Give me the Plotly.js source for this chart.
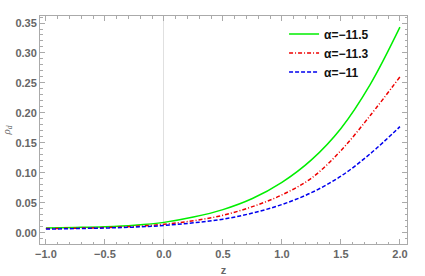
<!DOCTYPE html>
<html>
<head>
<meta charset="utf-8">
<script src="https://cdn.plot.ly/plotly-3.0.1.min.js"></script>
<style>html,body{margin:0;padding:0;background:#fff;}#chart{width:425px;height:276px;}</style>
</head>
<body>
<div id="chart"></div>
<script>
var zValues = [-1.0, -0.75, -0.5, -0.25, 0.0, 0.25, 0.5, 0.75, 1.0, 1.25, 1.5, 1.75, 2.0];
var rhoA115 = [0.0080, 0.0088, 0.0100, 0.0125, 0.0172, 0.0260, 0.0385, 0.0570, 0.0840, 0.1215, 0.1740, 0.2480, 0.3430];
var rhoA113 = [0.0068, 0.0075, 0.0085, 0.0105, 0.0140, 0.0200, 0.0290, 0.0435, 0.0630, 0.0910, 0.1370, 0.1960, 0.2600];
var rhoA11  = [0.0060, 0.0068, 0.0078, 0.0093, 0.0120, 0.0165, 0.0225, 0.0327, 0.0470, 0.0668, 0.0944, 0.1320, 0.1770];
var seriesNames = ["α=−11.5", "α=−11.3", "α=−11"];
var yTickVals = [0.00, 0.05, 0.10, 0.15, 0.20, 0.25, 0.30, 0.35];
var xTickVals = [-1.0, -0.5, 0.0, 0.5, 1.0, 1.5, 2.0];

var traces = [
  {x: zValues, y: rhoA115, name: seriesNames[0], mode: 'lines', line: {color: '#00ee00', width: 1.5, shape: 'spline'}},
  {x: zValues, y: rhoA113, name: seriesNames[1], mode: 'lines', line: {color: '#ee0000', width: 1.5, dash: '4px,2px,1px,2px', shape: 'spline'}},
  {x: zValues, y: rhoA11, name: seriesNames[2], mode: 'lines', line: {color: '#0000ee', width: 1.5, dash: '4px,2px', shape: 'spline'}}
];

var tickFont = {family: 'Liberation Sans, Arial, sans-serif', size: 11, color: '#666666', weight: 'bold'};
var frameColor = '#aaaaaa';

var layout = {
  width: 425, height: 276,
  margin: {l: 40, r: 18, t: 16, b: 32},
  paper_bgcolor: '#ffffff', plot_bgcolor: '#ffffff',
  showlegend: true,
  legend: {x: 0.665, y: 0.985, xanchor: 'left', yanchor: 'top', bgcolor: 'rgba(0,0,0,0)',
           font: {family: 'Liberation Sans, Arial, sans-serif', size: 12, color: '#111', weight: 'bold'},
           tracegroupgap: 0, itemwidth: 30},
  xaxis: {
    range: [-1.05, 2.06], showgrid: false, zeroline: true, zerolinecolor: '#e0e0e0', zerolinewidth: 1,
    showline: true, linecolor: frameColor, linewidth: 1, mirror: 'allticks',
    ticks: 'inside', ticklen: 5, tickcolor: frameColor, tickvals: xTickVals, tickformat: '.1f',
    minor: {ticks: 'inside', ticklen: 2.5, dtick: 0.1, tickcolor: frameColor, showgrid: false},
    tickfont: tickFont,
    title: {text: 'z', font: {family: 'Liberation Sans, Arial, sans-serif', size: 11, color: '#666666', weight: 'bold'}, standoff: 7}
  },
  yaxis: {
    range: [-0.0189, 0.3617], showgrid: false, zeroline: false,
    showline: true, linecolor: frameColor, linewidth: 1, mirror: 'allticks',
    ticks: 'inside', ticklen: 5, tickcolor: frameColor, tickvals: yTickVals, tickformat: '.2f',
    minor: {ticks: 'inside', ticklen: 2.5, dtick: 0.01, tickcolor: frameColor, showgrid: false},
    tickfont: tickFont,
    title: {text: '<i>ρ</i><sub><i>d</i></sub>', font: {family: 'Liberation Serif, serif', size: 11, color: '#666666'}, standoff: 2}
  }
};

Plotly.newPlot('chart', traces, layout, {displayModeBar: false, staticPlot: true});
</script>
</body>
</html>
